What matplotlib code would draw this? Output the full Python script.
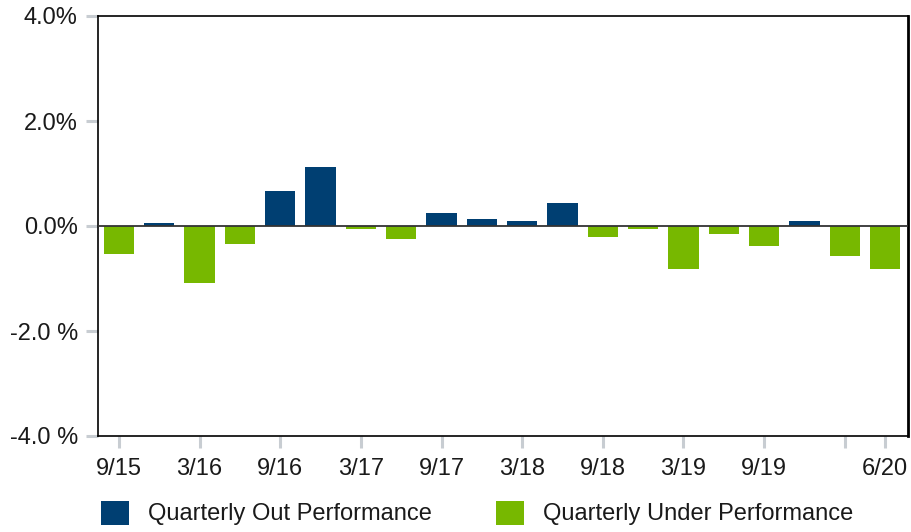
import matplotlib
matplotlib.use("Agg")
import matplotlib.pyplot as plt
from matplotlib.patches import Patch
import numpy as np

plt.rcParams['font.family'] = ['Liberation Sans', 'DejaVu Sans']

quarters = ["9/15", "12/15", "3/16", "6/16", "9/16", "12/16", "3/17", "6/17",
            "9/17", "12/17", "3/18", "6/18", "9/18", "12/18", "3/19", "6/19",
            "9/19", "12/19", "3/20", "6/20"]
values = [-0.54, 0.06, -1.09, -0.35, 0.67, 1.13, -0.05, -0.24,
          0.25, 0.14, 0.10, 0.44, -0.20, -0.05, -0.81, -0.16,
          -0.39, 0.10, -0.58, -0.81]
tick_idx = [0, 2, 4, 6, 8, 10, 12, 14, 16, 18, 19]
tick_labels = ["9/15", "3/16", "9/16", "3/17", "9/17", "3/18", "9/18",
               "3/19", "9/19", "", "6/20"]
y_ticks = [-4, -2, 0, 2, 4]
y_labels = ["-4.0 %", "-2.0 %", "0.0%", "2.0%", "4.0%"]

navy = "#003f72"
green = "#77b800"
tick_gray = "#c8cdd2"
txt = "#1a1a1a"

fig = plt.figure(figsize=(9.11, 5.32), dpi=100)
ax = fig.add_axes([98 / 911, 96 / 532, 810 / 911, 420 / 532])

x = np.arange(len(values))
vals = np.array(values)
colors = [navy if v > 0 else green for v in vals]
ax.bar(x, vals, width=0.75, color=colors, zorder=2)
ax.axhline(0, color="#333333", lw=1.3, zorder=3)

ax.set_xlim(-0.52, len(values) - 1 + 0.57)
ax.set_ylim(-4, 4)
ax.set_yticks(y_ticks)
ax.set_yticklabels(y_labels)
ax.set_xticks(tick_idx)
ax.set_xticklabels(tick_labels)
ax.tick_params(axis="both", colors=tick_gray, labelcolor=txt, labelsize=17,
               length=8.5, width=2.2)
ax.tick_params(axis="y", pad=6)
ax.tick_params(axis="x", pad=7.5)

for s in ax.spines.values():
    s.set_color("black")
    s.set_linewidth(1.2)
ax.spines["right"].set_linewidth(2)

handles = [Patch(facecolor=navy, label="Quarterly Out Performance"),
           Patch(facecolor=green, label="Quarterly Under Performance")]
fig.legend(handles=handles, loc="center left", bbox_to_anchor=(101 / 911, 19 / 532),
           ncol=2, frameon=False, fontsize=17, handlelength=1.19, handleheight=1.19,
           handletextpad=0.8, columnspacing=2.7, borderpad=0, borderaxespad=0,
           labelcolor=txt)

fig.savefig("out.png", dpi=100)
